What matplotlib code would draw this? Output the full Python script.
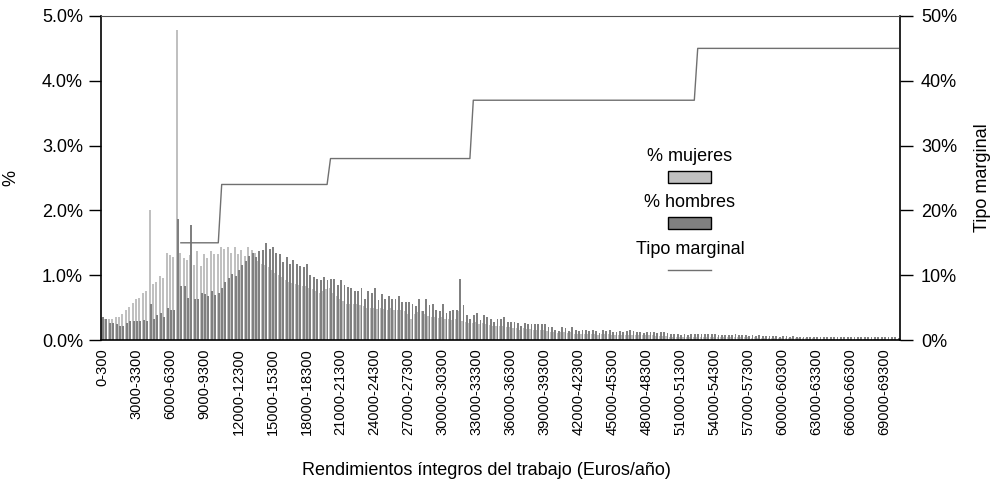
import matplotlib.pyplot as plt
from matplotlib.patches import Rectangle
import numpy as np

plt.rcParams['font.family'] = ['Liberation Sans', 'DejaVu Sans']

# tramos de 300 euros: 0-300, 300-600, ... 70200-70500
tramo_inicio = list(range(0, 70500, 300))
tramos = [f"{a}-{a + 300}" for a in tramo_inicio]

mujeres = [
    0.34, 0.33, 0.33, 0.33, 0.35, 0.35, 0.40, 0.46, 0.51, 0.57,
    0.63, 0.65, 0.72, 0.75, 2.00, 0.87, 0.90, 0.99, 0.95, 1.35,
    1.31, 1.28, 4.78, 1.34, 1.26, 1.23, 1.31, 1.16, 1.38, 1.14,
    1.33, 1.26, 1.38, 1.33, 1.33, 1.44, 1.41, 1.44, 1.35, 1.44,
    1.33, 1.39, 1.30, 1.44, 1.39, 1.35, 1.22, 1.18, 1.15, 1.12,
    1.08, 1.04, 1.00, 0.97, 0.93, 0.90, 0.88, 0.86, 0.85, 0.84,
    0.83, 0.80, 0.78, 0.75, 0.73, 0.76, 0.78, 0.80, 0.72, 0.68,
    0.64, 0.60, 0.56, 0.56, 0.55, 0.55, 0.54, 0.52, 0.50, 0.49,
    0.49, 0.48, 0.49, 0.48, 0.47, 0.49, 0.47, 0.46, 0.46, 0.44,
    0.40, 0.33, 0.40, 0.43, 0.45, 0.40, 0.37, 0.36, 0.35, 0.34,
    0.36, 0.33, 0.32, 0.31, 0.32, 0.45, 0.30, 0.28, 0.26, 0.27,
    0.28, 0.25, 0.26, 0.24, 0.23, 0.21, 0.22, 0.22, 0.22, 0.20,
    0.20, 0.19, 0.18, 0.16, 0.18, 0.17, 0.17, 0.16, 0.16, 0.16,
    0.15, 0.14, 0.13, 0.12, 0.11, 0.13, 0.12, 0.11, 0.12, 0.10,
    0.10, 0.10, 0.10, 0.09, 0.10, 0.09, 0.08, 0.09, 0.09, 0.09,
    0.08, 0.08, 0.08, 0.08, 0.08, 0.08, 0.08, 0.07, 0.07, 0.07,
    0.07, 0.07, 0.07, 0.06, 0.06, 0.06, 0.06, 0.05, 0.05, 0.05,
    0.05, 0.05, 0.05, 0.05, 0.05, 0.05, 0.05, 0.05, 0.05, 0.04,
    0.04, 0.04, 0.04, 0.04, 0.04, 0.04, 0.04, 0.04, 0.04, 0.04,
    0.04, 0.03, 0.04, 0.03, 0.03, 0.03, 0.03, 0.03, 0.03, 0.03,
    0.03, 0.03, 0.03, 0.03, 0.03, 0.03, 0.03, 0.03, 0.02, 0.03,
    0.02, 0.02, 0.02, 0.02, 0.02, 0.02, 0.02, 0.02, 0.02, 0.02,
    0.02, 0.02, 0.02, 0.02, 0.02, 0.02, 0.02, 0.02, 0.02, 0.02,
    0.02, 0.02, 0.02, 0.02, 0.02,
]

hombres = [
    0.35, 0.32, 0.27, 0.26, 0.25, 0.21, 0.22, 0.26, 0.30, 0.30,
    0.29, 0.30, 0.31, 0.30, 0.56, 0.33, 0.39, 0.41, 0.35, 0.49,
    0.46, 0.47, 1.87, 0.83, 0.83, 0.65, 1.77, 0.63, 0.63, 0.73,
    0.71, 0.68, 0.76, 0.69, 0.73, 0.81, 0.90, 0.95, 1.02, 0.99,
    1.08, 1.16, 1.22, 1.30, 1.34, 1.28, 1.38, 1.39, 1.50, 1.40,
    1.44, 1.35, 1.33, 1.21, 1.28, 1.18, 1.23, 1.18, 1.14, 1.12,
    1.18, 1.00, 0.97, 0.94, 0.92, 0.97, 0.93, 0.94, 0.94, 0.85,
    0.92, 0.85, 0.82, 0.80, 0.76, 0.76, 0.81, 0.64, 0.76, 0.73,
    0.81, 0.61, 0.71, 0.64, 0.68, 0.64, 0.64, 0.68, 0.59, 0.59,
    0.59, 0.55, 0.53, 0.63, 0.44, 0.64, 0.54, 0.56, 0.46, 0.45,
    0.56, 0.42, 0.45, 0.47, 0.47, 0.94, 0.54, 0.39, 0.33, 0.39,
    0.42, 0.31, 0.39, 0.36, 0.33, 0.28, 0.33, 0.33, 0.35, 0.28,
    0.28, 0.28, 0.26, 0.21, 0.27, 0.24, 0.24, 0.25, 0.24, 0.25,
    0.25, 0.20, 0.20, 0.16, 0.14, 0.20, 0.18, 0.14, 0.20, 0.15,
    0.14, 0.15, 0.15, 0.14, 0.15, 0.14, 0.11, 0.15, 0.14, 0.15,
    0.12, 0.13, 0.14, 0.13, 0.14, 0.15, 0.14, 0.12, 0.12, 0.11,
    0.13, 0.12, 0.12, 0.11, 0.12, 0.12, 0.11, 0.09, 0.09, 0.09,
    0.08, 0.09, 0.08, 0.09, 0.10, 0.09, 0.10, 0.10, 0.09, 0.09,
    0.09, 0.08, 0.07, 0.08, 0.07, 0.08, 0.09, 0.07, 0.07, 0.07,
    0.06, 0.07, 0.06, 0.07, 0.06, 0.06, 0.06, 0.06, 0.06, 0.05,
    0.06, 0.06, 0.05, 0.06, 0.05, 0.05, 0.05, 0.05, 0.05, 0.05,
    0.05, 0.04, 0.05, 0.05, 0.04, 0.05, 0.04, 0.04, 0.05, 0.04,
    0.04, 0.04, 0.04, 0.04, 0.04, 0.04, 0.04, 0.04, 0.04, 0.04,
    0.04, 0.04, 0.04, 0.04, 0.03,
]

# escala de tipos marginales: desde que tramo se aplica cada tipo
tipo_desde = [6900, 10500, 20100, 32700, 52500]
tipo_marginal = [15, 24, 28, 37, 45]

tipo = []
for a in tramo_inicio:
    t = np.nan
    for desde, valor in zip(tipo_desde, tipo_marginal):
        if a >= desde:
            t = valor
    tipo.append(t)

x = np.arange(len(tramos))

fig = plt.figure(figsize=(9.91, 4.84), dpi=100)
ax = fig.add_axes([0.1019, 0.2975, 0.8063, 0.6695])

c_muj = '#c0c0c0'
c_hom = '#808080'
c_tipo = '#707070'

ax.bar(x - 0.2, mujeres, width=0.55, color=c_muj, linewidth=0)
ax.bar(x + 0.1, hombres, width=0.55, color=c_hom, linewidth=0)

ax.set_xlim(-0.5, len(tramos) - 0.5)
ax.set_ylim(0, 5)
ax.set_yticks(np.arange(0, 5.01, 1))
ax.set_yticklabels([f"{v:.1f}%" for v in np.arange(0, 5.01, 1)], fontsize=13)
ax.set_ylabel('%', fontsize=13, labelpad=16)

ax.set_xticks(x[::10])
ax.set_xticklabels(tramos[::10], rotation=90, fontsize=10.5)
ax.tick_params(axis='x', length=0, pad=6)
ax.tick_params(axis='y', length=9, width=1, direction='out', pad=4)
ax.set_xlabel('Rendimientos íntegros del trabajo (Euros/año)', fontsize=13, labelpad=16)
ax.xaxis.set_label_coords(0.482, -0.375)

for s in ['left', 'right', 'bottom']:
    ax.spines[s].set_color('black')
    ax.spines[s].set_linewidth(1.2)
ax.spines['top'].set_color('#505050')

ax2 = ax.twinx()
ax2.plot(x, tipo, color=c_tipo, linewidth=1)
ax2.set_ylim(0, 50)
ax2.set_yticks(range(0, 51, 10))
ax2.set_yticklabels([f"{v}%" for v in range(0, 51, 10)], fontsize=13)
ax2.tick_params(axis='y', length=9, width=1, direction='out', pad=6)
ax2.set_ylabel('Tipo marginal', fontsize=13, labelpad=12)
for s in ax2.spines.values():
    s.set_visible(False)

# leyenda con el texto encima de cada simbolo
lx = 0.737
pw, ph = 0.054, 0.037
ax.text(lx, 0.565, '% mujeres', transform=ax.transAxes, ha='center', va='center', fontsize=13)
ax.add_patch(Rectangle((lx - pw / 2, 0.503 - ph / 2), pw, ph, transform=ax.transAxes,
                       facecolor=c_muj, edgecolor='black', linewidth=1, clip_on=False))
ax.text(lx, 0.423, '% hombres', transform=ax.transAxes, ha='center', va='center', fontsize=13)
ax.add_patch(Rectangle((lx - pw / 2, 0.361 - ph / 2), pw, ph, transform=ax.transAxes,
                       facecolor=c_hom, edgecolor='black', linewidth=1, clip_on=False))
ax.text(lx, 0.278, 'Tipo marginal', transform=ax.transAxes, ha='center', va='center', fontsize=13)
ax.plot([lx - pw / 2, lx + pw / 2], [0.216, 0.216], transform=ax.transAxes,
        color=c_tipo, linewidth=1)

plt.savefig('out.png', dpi=100)
plt.close()
